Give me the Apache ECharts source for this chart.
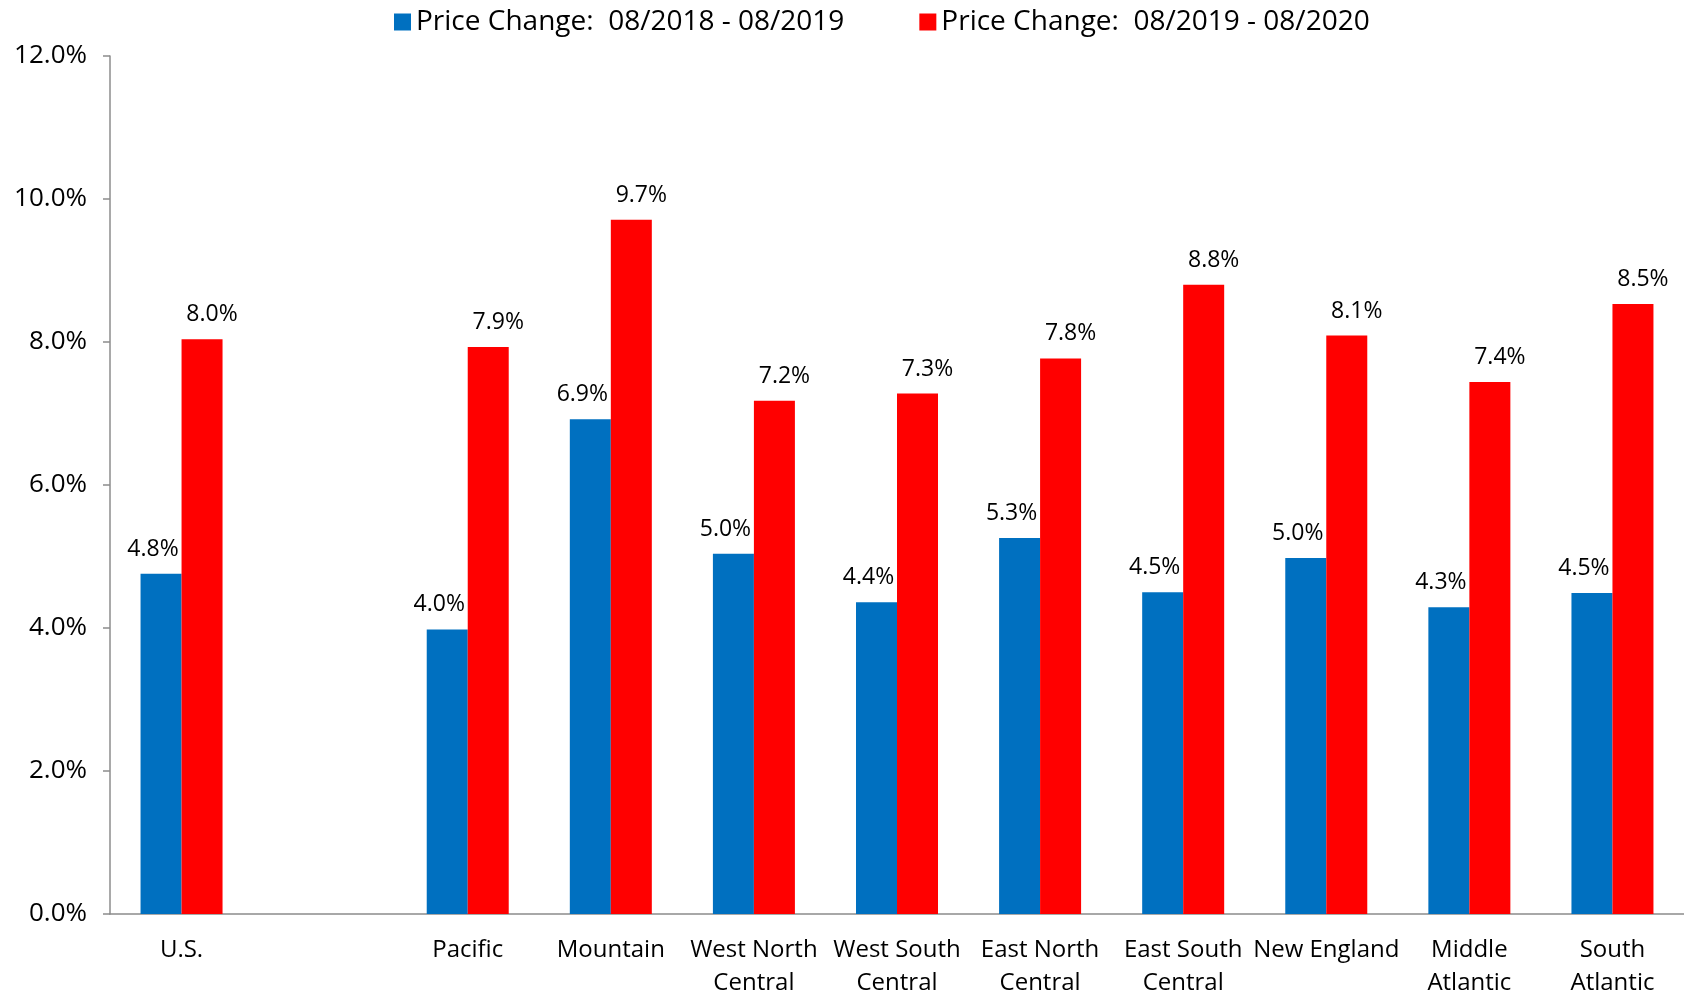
<!DOCTYPE html>
<html>
<head>
<meta charset="utf-8">
<script src="https://cdn.jsdelivr.net/npm/echarts@6/dist/echarts.min.js"></script>
<style>
  html, body { margin: 0; padding: 0; background: #fff; }
  #chart { width: 1684px; height: 995px; }
</style>
</head>
<body>
<div id="chart"></div>
<script>
const regions = ['U.S.', '', 'Pacific', 'Mountain', 'West North\nCentral', 'West South\nCentral',
  'East North\nCentral', 'East South\nCentral', 'New England', 'Middle\nAtlantic', 'South\nAtlantic'];
const change2019 = [4.76, '-', 3.98, 6.92, 5.04, 4.36, 5.26, 4.5, 4.98, 4.29, 4.49];
const change2020 = [8.04, '-', 7.93, 9.71, 7.18, 7.28, 7.77, 8.8, 8.09, 7.44, 8.53];
const seriesNames = ['Price Change:  08/2018 - 08/2019', 'Price Change:  08/2019 - 08/2020'];

const font = '"Open Sans", sans-serif';
const axisGray = '#8c8c8c';

let chart = echarts.init(document.getElementById('chart'));

function barSeries(name, data, color, dx) {
  return {
    name: name,
    type: 'bar',
    data: data,
    barWidth: 41,
    barGap: '0%',
    itemStyle: { color: color },
    label: {
      show: true,
      position: 'top',
      distance: 13,
      offset: [dx, 0],
      color: '#000',
      fontFamily: font,
      fontSize: 23,
      formatter: p => p.value.toFixed(1) + '%'
    }
  };
}

chart.setOption({
  animation: false,
  textStyle: { fontFamily: font },
  legend: {
    top: 3,
    left: 389,
    itemWidth: 17,
    itemHeight: 17,
    itemGap: 75,
    icon: 'rect',
    textStyle: { fontFamily: font, fontSize: 28, color: '#000' }
  },
  grid: { left: 110, right: 0, top: 56, bottom: 81, outerBoundsMode: 'none' },
  xAxis: {
    type: 'category',
    data: regions,
    axisLine: { lineStyle: { color: axisGray, width: 1.5 } },
    axisTick: { length: 8, lineStyle: { color: axisGray, width: 1.5 } },
    axisLabel: {
      interval: 0,
      margin: 20,
      color: '#000',
      fontFamily: font,
      fontSize: 24,
      lineHeight: 33
    }
  },
  yAxis: {
    type: 'value',
    min: 0,
    max: 12,
    interval: 2,
    splitLine: { show: false },
    axisLine: { show: true, lineStyle: { color: axisGray, width: 1.5 } },
    axisTick: { show: true, length: 7, lineStyle: { color: axisGray, width: 1.5 } },
    axisLabel: {
      margin: 23,
      color: '#000',
      fontFamily: font,
      fontSize: 26,
      formatter: v => v.toFixed(1) + '%'
    }
  },
  series: [
    barSeries(seriesNames[0], change2019, '#0070C0', -8),
    barSeries(seriesNames[1], change2020, '#FF0000', 10)
  ]
});
</script>
</body>
</html>
